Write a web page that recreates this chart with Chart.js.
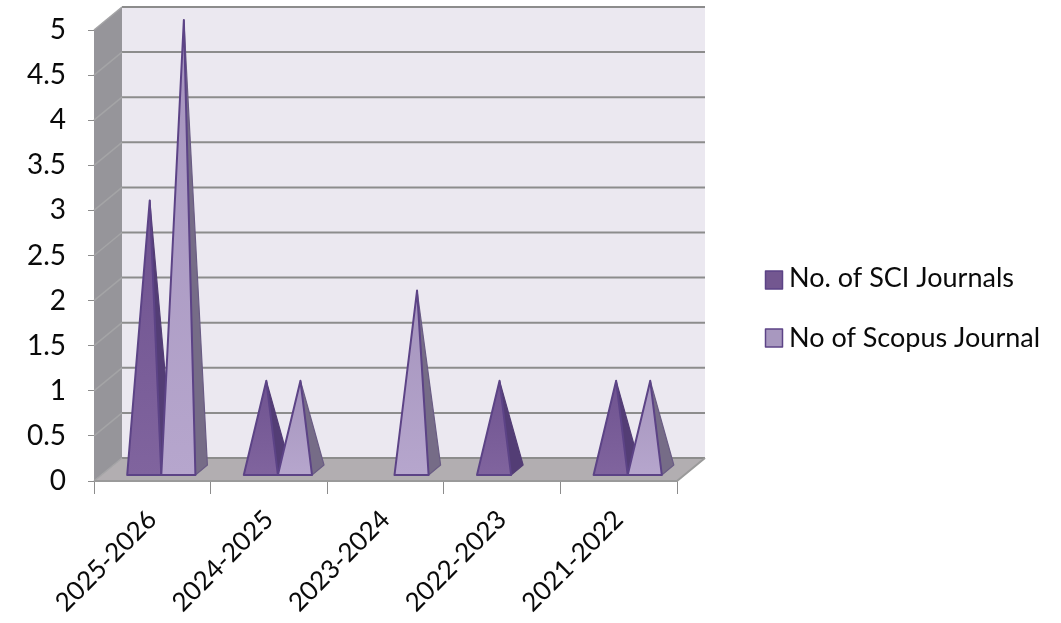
<!DOCTYPE html>
<html><head><meta charset="utf-8">
<style>html,body{margin:0;padding:0;background:#fff}#w{width:1061px;height:623px}canvas{filter:blur(0.5px)}</style>
<script src="https://cdn.jsdelivr.net/npm/chart.js@4"></script></head>
<body><div id="w"><canvas id="c"></canvas></div>
<script>
const categories = ['2025-2026','2024-2025','2023-2024','2022-2023','2021-2022'];
const sciJournals = [3,1,0,1,1];
const scopusJournals = [5,1,2,0,1];
const yTicks = [0,0.5,1,1.5,2,2.5,3,3.5,4,4.5,5];

const DX=28, DY=-23;
const FONT='Lato, "Open Sans", sans-serif';
const faces=[{front0:'#6f5390',front1:'#80649e',side:'#533d75',sideEdge:'#533d75',edge:'#5c4386'},
             {front0:'#a594bd',front1:'#b6a6cd',side:'#766c87',sideEdge:'#6a5c84',edge:'#5c4386'}];

function poly(ctx,pts,fill,stroke,lw){
  ctx.beginPath();pts.forEach((p,i)=>i?ctx.lineTo(p[0],p[1]):ctx.moveTo(p[0],p[1]));ctx.closePath();
  if(fill){ctx.fillStyle=fill;ctx.fill();}
  if(stroke){ctx.strokeStyle=stroke;ctx.lineWidth=lw||1;ctx.lineJoin='round';ctx.stroke();}
}
const walls={id:'walls',beforeDatasetsDraw(chart){
  const {ctx,chartArea:a,scales:{y}}=chart;const b=y.getPixelForValue(0),t=y.getPixelForValue(5);
  ctx.save();
  poly(ctx,[[a.left+DX,t+DY],[a.right+DX,t+DY],[a.right+DX,b+DY],[a.left+DX,b+DY]],'#ebe8f0');
  poly(ctx,[[a.left,t],[a.left+DX,t+DY],[a.left+DX,b+DY],[a.left,b]],'#96959a');
  poly(ctx,[[a.left,b],[a.right,b],[a.right+DX,b+DY],[a.left+DX,b+DY]],'#b2aeb1');
  yTicks.forEach(v=>{const p=y.getPixelForValue(v);
    ctx.strokeStyle='#8c8c8c';ctx.lineWidth=2;
    ctx.beginPath();ctx.moveTo(a.left+DX,p+DY);ctx.lineTo(a.right+DX,p+DY);ctx.stroke();
    ctx.strokeStyle='#a4a4a6';ctx.lineWidth=1.5;
    ctx.beginPath();ctx.moveTo(a.left,p);ctx.lineTo(a.left+DX,p+DY);ctx.stroke();
  });
  ctx.strokeStyle='#9a9a9a';ctx.lineWidth=2;
  ctx.beginPath();ctx.moveTo(a.left,b);ctx.lineTo(a.right,b);ctx.lineTo(a.right+DX,b+DY);ctx.stroke();
  ctx.restore();
}};
const pyramids={id:'pyramids',afterDatasetsDraw(chart){
  const {ctx,scales:{y}}=chart;const by=y.getPixelForValue(0)-6;
  ctx.save();
  const metas=[chart.getDatasetMeta(0),chart.getDatasetMeta(1)];
  categories.forEach((_,i)=>{metas.forEach((m,s)=>{
    const el=m.data[i],val=chart.data.datasets[s].data[i];
    if(!val)return;
    const x0=el.x-el.width/2+9,x1=el.x+el.width/2+9;
    const ax=(x0+x1)/2+5.5,ay=el.y-10,f=faces[s];
    poly(ctx,[[x1,by],[x1+12,by-10],[ax,ay]],f.side,f.sideEdge,1.2);
    const g=ctx.createLinearGradient(0,ay,0,by);g.addColorStop(0,f.front0);g.addColorStop(1,f.front1);
    poly(ctx,[[x0,by],[x1,by],[ax,ay]],g,f.edge,2);
  });});
  ctx.restore();
}};
const legend3d={id:'legend3d',afterDraw(chart){
  const {ctx}=chart;ctx.save();
  const boxY=[280,338],textY=[278,338];
  chart.data.datasets.forEach((d,i)=>{
    poly(ctx,[[765.5,boxY[i]-9],[782.5,boxY[i]-9],[782.5,boxY[i]+9],[765.5,boxY[i]+9]],i?'#a898bf':'#735790','#5c4386',1.5);
    ctx.fillStyle='#0a0a0a';ctx.font='27px '+FONT;ctx.textBaseline='middle';ctx.textAlign='left';
    ctx.fillText(d.label,789,textY[i]);
  });
  ctx.restore();
}};
new Chart(document.getElementById('c'),{
  type:'bar',
  data:{labels:categories,datasets:[
    {label:'No. of SCI Journals',data:sciJournals,backgroundColor:'rgba(0,0,0,0)',categoryPercentage:0.585,barPercentage:1},
    {label:'No of Scopus Journal',data:scopusJournals,backgroundColor:'rgba(0,0,0,0)',categoryPercentage:0.585,barPercentage:1}
  ]},
  plugins:[walls,pyramids,legend3d],
  options:{
    responsive:true,maintainAspectRatio:false,animation:false,
    layout:{autoPadding:false,padding:{top:30,right:384,left:0,bottom:0}},
    plugins:{legend:{display:false},tooltip:{enabled:false}},
    scales:{
      x:{grid:{offset:true,drawOnChartArea:false,tickLength:13,color:'#8c8c8c'},border:{color:'#9a9a9a'},
         ticks:{maxRotation:45,minRotation:45,color:'#0a0a0a',font:{family:FONT,size:26},padding:10},
         afterFit(s){s.height=142;}},
      y:{min:0,max:5,grid:{drawOnChartArea:false,tickLength:6,color:'#8c8c8c'},border:{color:'#8c8c8c'},
         ticks:{stepSize:0.5,color:'#0a0a0a',font:{family:FONT,size:28},padding:22,callback:v=>String(v)},
         afterFit(s){s.width=94;s.paddingTop=0;s.paddingBottom=0;}}
    }
  }
});
</script></body></html>
